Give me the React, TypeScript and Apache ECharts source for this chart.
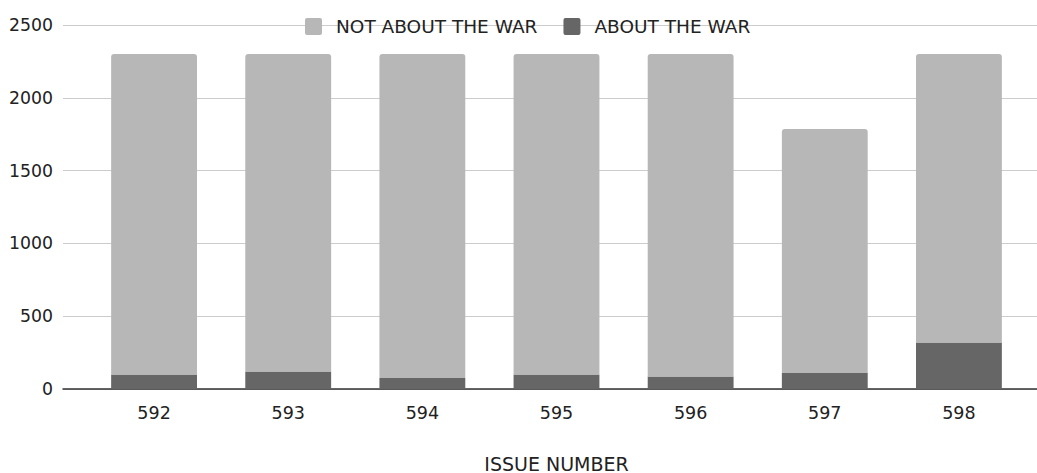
import React, { useEffect, useRef } from "react";
import * as echarts from "echarts";

// Issue numbers along the x axis
const issues = ["592", "593", "594", "595", "596", "597", "598"];
// Items about the war, per issue
const aboutWar = [100, 120, 75, 100, 85, 110, 320];
// Items not about the war, per issue
const notAboutWar = [2200, 2180, 2225, 2200, 2215, 1675, 1980];
// Value axis ticks
const yTicks = [0, 500, 1000, 1500, 2000, 2500];

const LIGHT = "#b7b7b7";
const DARK = "#666666";
const TEXT = "#222222";
const FONT = "DejaVu Sans";

export default function App() {
  const ref = useRef<HTMLDivElement>(null);

  useEffect(() => {
    if (!ref.current) return;
    const chart = echarts.init(ref.current, undefined, { renderer: "svg" });
    const yMax = yTicks[yTicks.length - 1];
    const yStep = yTicks[1] - yTicks[0];

    chart.setOption({
      animation: false,
      backgroundColor: "#ffffff",
      textStyle: { fontFamily: FONT },
      legend: {
        top: 12,
        left: 300,
        itemWidth: 17,
        itemHeight: 17,
        itemGap: 26,
        icon: "path://M2,0 L15,0 Q17,0 17,2 L17,15 Q17,17 15,17 L2,17 Q0,17 0,15 L0,2 Q0,0 2,0 Z",
        textStyle: { fontFamily: FONT, fontSize: 18.5, color: TEXT, padding: [0, 0, 0, 9] },
        data: ["NOT ABOUT THE WAR", "ABOUT THE WAR"],
      },
      grid: [
        // background grid: gridlines, y labels and the baseline
        { left: 63, right: 0, top: 25, bottom: 84, containLabel: false, outerBoundsMode: "none" },
        // bars
        { left: 87, right: 11, top: 25, bottom: 84, containLabel: false, outerBoundsMode: "none" },
      ],
      xAxis: [
        {
          gridIndex: 0,
          type: "value",
          min: 0,
          max: 1,
          axisLine: { show: true, lineStyle: { color: "#333333", width: 1.5 } },
          axisTick: { show: false },
          axisLabel: { show: false },
          splitLine: { show: false },
        },
        {
          gridIndex: 1,
          type: "category",
          data: issues,
          axisLine: { show: false },
          axisTick: { show: false },
          axisLabel: { fontFamily: FONT, fontSize: 17.5, color: TEXT, margin: 15 },
          name: "ISSUE NUMBER",
          nameLocation: "middle",
          nameGap: 65,
          nameTextStyle: { fontFamily: FONT, fontSize: 19, color: TEXT },
        },
      ],
      yAxis: [
        {
          gridIndex: 0,
          type: "value",
          min: 0,
          max: yMax,
          interval: yStep,
          axisLine: { show: false },
          axisTick: { show: false },
          axisLabel: {
            fontFamily: FONT,
            fontSize: 17.3,
            color: TEXT,
            margin: 10,
            formatter: (v: number) => String(v),
          },
          splitLine: { show: true, lineStyle: { color: "#cccccc", width: 1 } },
        },
        {
          gridIndex: 1,
          type: "value",
          min: 0,
          max: yMax,
          interval: yStep,
          axisLine: { show: false },
          axisTick: { show: false },
          axisLabel: { show: false },
          splitLine: { show: false },
        },
      ],
      series: [
        {
          name: "ABOUT THE WAR",
          type: "bar",
          xAxisIndex: 1,
          yAxisIndex: 1,
          stack: "total",
          barWidth: "64%",
          data: aboutWar,
          itemStyle: { color: DARK },
        },
        {
          name: "NOT ABOUT THE WAR",
          type: "bar",
          xAxisIndex: 1,
          yAxisIndex: 1,
          stack: "total",
          barWidth: "64%",
          data: notAboutWar,
          itemStyle: { color: LIGHT, borderRadius: [3, 3, 0, 0] },
        },
      ],
    });

    return () => chart.dispose();
  }, []);

  return (
    <div
      ref={ref}
      style={{ position: "fixed", left: 0, top: 0, width: 1037, height: 473 }}
    />
  );
}
